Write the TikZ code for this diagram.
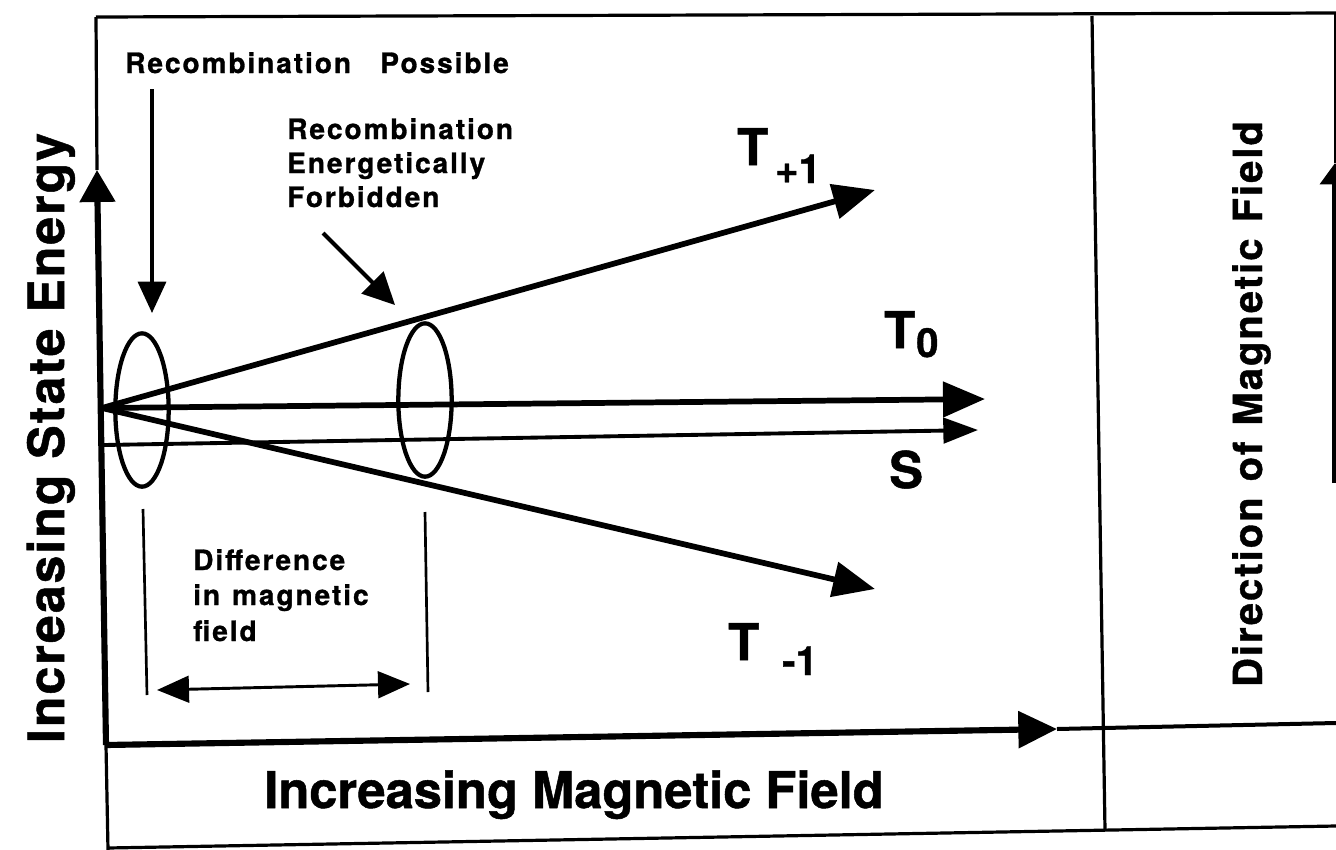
\documentclass[tikz,border=0pt]{standalone}
\usepackage{fontspec}
\setmainfont{TeX Gyre Heros}
\newfontfamily\labfam[LetterSpace=7,FakeBold=1]{texgyreheros-bold.otf}
\newfontfamily\bigfam[FakeBold=1]{texgyreheros-bold.otf}
\newfontfamily\dirfam[LetterSpace=5,FakeBold=1]{texgyreheros-bold.otf}
\newfontfamily\axfam[LetterSpace=4,FakeBold=1]{texgyreheros-bold.otf}
\usetikzlibrary{arrows.meta,shapes.geometric}
\begin{document}
\begin{tikzpicture}[x=0.75pt,y=-0.75pt,
  smalllab/.style={inner sep=0pt, anchor=base west, font=\labfam\fontsize{21}{25}\selectfont},
  tlab/.style={inner sep=0pt, anchor=base west, font=\bigfam\fontsize{38}{40}\selectfont},
  sublab/.style={inner sep=0pt, anchor=base west, font=\bigfam\fontsize{30}{32}\selectfont},
  frameln/.style={line width=2.4pt},
  axisln/.style={line width=4.6pt},
  level/.style={line width=4.3pt, -{Triangle[length=31.5pt,width=26pt]}},
  slevel/.style={line width=2.9pt, -{Triangle[length=26pt,width=19pt]}},
  pointer/.style={line width=2.6pt, -{Triangle[length=23.5pt,width=21pt]}},
  tick/.style={line width=2pt},
  ring/.style={draw, ellipse, line width=3.2pt, minimum width=40pt, minimum height=115pt, inner sep=0pt}
]
\useasboundingbox (0,0) rectangle (1336,850);

% frame corners and axis points
\coordinate (tl) at (96,17);
\coordinate (tr) at (1336,13);
\coordinate (bl) at (108,850);
\coordinate (br) at (1336,826);
\coordinate (bll) at (108,848);
\coordinate (orig) at (106,745);
\coordinate (ytip) at (97,170);
\coordinate (xtip) at (1057,729);
\coordinate (xend) at (1336,723);
\coordinate (dtop) at (1092,16);
\coordinate (dbot) at (1105,830);
\coordinate (rtip) at (1335,163);
\coordinate (rbot) at (1335,483);
\coordinate (rtop) at (1335,13);

% frame
\draw[frameln] (tl) -- (tr);
\draw[frameln] (tl) -- (ytip);
\draw[frameln] (orig) -- (bl);
\draw[frameln] (bll) -- (br);
\draw[frameln] (dtop) -- (dbot);
\draw[line width=1.5pt] (rtop) -- (rtip);

% axes
\draw[axisln, -{Triangle[length=24pt,width=26pt]}] (orig) -- (ytip);
\draw[axisln, -{Triangle[length=29pt,width=27pt]}] (orig) -- (xtip);
\draw[line width=3pt] (xtip) -- (xend);
\draw[axisln, -{Triangle[length=16pt,width=22pt]}] (rbot) -- (rtip);

% energy levels
\coordinate (O) at (102,408);
\coordinate (tp1) at (875,190);
\coordinate (tz) at (985,399);
\coordinate (tm1) at (875,589);
\coordinate (s0) at (104,445);
\coordinate (s1) at (978,430);
\draw[level] (O) -- (tp1);
\draw[level] (O) -- (tz);
\draw[level] (O) -- (tm1);
\draw[slevel] (s0) -- (s1);

% crossing regions
\node[ring] (e1) at (142,410) {};
\node[ring] (e2) at (425,400) {};

% pointers
\coordinate (pa) at (152,89);
\coordinate (pb) at (152,313);
\draw[pointer] (pa) -- (pb);
\coordinate (fa) at (323,233);
\coordinate (fb) at (395,305);
\draw[pointer, line width=3pt, -{Triangle[length=24pt,width=23pt]}] (fa) -- (fb);

% difference markers
\coordinate (k1a) at (143,509);
\coordinate (k1b) at (147,695);
\coordinate (k2a) at (425,512);
\coordinate (k2b) at (428,692);
\draw[tick] (k1a) -- (k1b);
\draw[tick] (k2a) -- (k2b);
\coordinate (da) at (157,690);
\coordinate (db) at (410,684);
\draw[tick, line width=2.2pt, {Triangle[length=24pt,width=20pt]}-{Triangle[length=24pt,width=20pt]}] (da) -- (db);

% labels
\node[smalllab] (rp) at (125,73) {Recombination\hspace{22pt}Possible};
\node[smalllab] (rf1) at (287,139) {Recombination};
\node[smalllab] (rf2) at (287,173) {Energetically};
\node[smalllab] (rf3) at (287,207) {Forbidden};
\node[smalllab] (d1) at (193,570) {Difference};
\node[smalllab] (d2) at (193,605) {in\hspace{9pt}magnetic};
\node[smalllab] (d3) at (193,641) {field};

\node[tlab] (Tp) at (737,165) {T};
\node[sublab] (Tps) at (775,183) {+1};
\node[tlab] (Tz) at (884,348) {T};
\node[sublab] (Tzs) at (916,357) {0};
\node[tlab] (Sl) at (889,488) {S};
\node[tlab] (Tm) at (728,660) {T};
\node[sublab] (Tms) at (782,675) {-1};

\node[inner sep=0pt, anchor=base, font=\bigfam\fontsize{38}{40}\selectfont] (xl) at (574,808) {Increasing Magnetic Field};
\node[inner sep=0pt, anchor=base, rotate=90, font=\axfam\fontsize{37.5}{40}\selectfont] (yl) at (64,438) {Increasing State Energy};
\node[inner sep=0pt, anchor=base, rotate=90, font=\dirfam\fontsize{30}{32}\selectfont] (dl) at (1262,404) {Direction\hspace{12pt}of\hspace{12pt}Magnetic\hspace{12pt}Field};
\end{tikzpicture}
\end{document}
